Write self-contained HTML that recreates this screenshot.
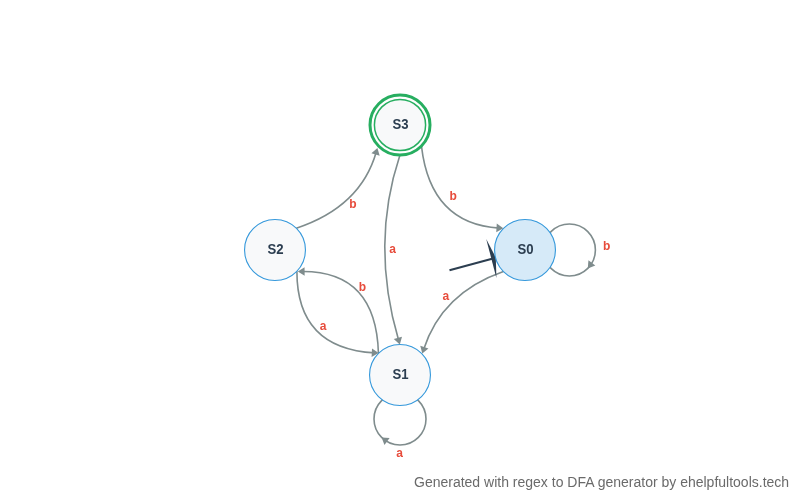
<!DOCTYPE html>
<html><head><meta charset="utf-8"><title>DFA</title>
<style>
html,body{margin:0;padding:0;background:#fff;}
body{width:800px;height:500px;position:relative;overflow:hidden;font-family:"Liberation Sans",sans-serif;}
.foot{will-change:transform;position:absolute;right:11px;top:473.9px;font-size:14px;color:#6a6a6a;line-height:16px;white-space:nowrap;}
</style></head><body>
<svg width="800" height="500" viewBox="0 0 800 500" style="position:absolute;left:0;top:0;will-change:transform">
<path d="M296.33 228.20 Q360.75 206.83 376.32 151.76" fill="none" stroke="#7f8c8d" stroke-width="1.6"/>
<path d="M421.54 146.59 Q430.65 223.82 499.31 228.08" fill="none" stroke="#7f8c8d" stroke-width="1.6"/>
<path d="M503.40 271.53 Q441.83 292.97 423.51 349.77" fill="none" stroke="#7f8c8d" stroke-width="1.6"/>
<path d="M296.91 271.22 Q296.77 348.52 374.61 352.90" fill="none" stroke="#7f8c8d" stroke-width="1.6"/>
<path d="M378.44 353.43 Q376.09 270.93 301.80 271.57" fill="none" stroke="#7f8c8d" stroke-width="1.6"/>
<path d="M399.81 155.50 Q370.29 244.25 398.68 340.55" fill="none" stroke="#7f8c8d" stroke-width="1.6"/>
<circle cx="569.40" cy="250.00" r="26.0" fill="none" stroke="#7f8c8d" stroke-width="1.6"/><polygon points="587.78,268.38 588.44,260.37 595.31,265.54" fill="#7f8c8d"/>
<circle cx="400.00" cy="419.00" r="26.0" fill="none" stroke="#7f8c8d" stroke-width="1.6"/><polygon points="381.62,437.38 389.63,438.04 384.46,444.91" fill="#7f8c8d"/>
<path d="M449.5 270.3 L493 258.5" stroke="#2c3e50" stroke-width="2.2" fill="none"/>
<polygon points="486.2,238.9 495.8,257.4 496.4,278.1" fill="#2c3e50"/>
<circle cx="400" cy="125" r="30" fill="#fff" stroke="#27ae60" stroke-width="3"/>
<circle cx="400" cy="125" r="25.6" fill="#f8f9fa" stroke="#27ae60" stroke-width="1.5"/>
<text transform="translate(400.6,129.1) scale(0.94,1.04)" text-anchor="middle" font-family="Liberation Sans, sans-serif" font-weight="bold" font-size="14" fill="#2c3e50">S3</text>
<circle cx="525" cy="250" r="30.45" fill="#d6eaf8" stroke="#3498db" stroke-width="1.1"/>
<text transform="translate(525.6,254.1) scale(0.94,1.04)" text-anchor="middle" font-family="Liberation Sans, sans-serif" font-weight="bold" font-size="14" fill="#2c3e50">S0</text>
<circle cx="275" cy="250" r="30.45" fill="#f8f9fa" stroke="#3498db" stroke-width="1.1"/>
<text transform="translate(275.6,254.1) scale(0.94,1.04)" text-anchor="middle" font-family="Liberation Sans, sans-serif" font-weight="bold" font-size="14" fill="#2c3e50">S2</text>
<circle cx="400" cy="375" r="30.45" fill="#f8f9fa" stroke="#3498db" stroke-width="1.1"/>
<text transform="translate(400.6,379.1) scale(0.94,1.04)" text-anchor="middle" font-family="Liberation Sans, sans-serif" font-weight="bold" font-size="14" fill="#2c3e50">S1</text>
<polygon points="377.41,147.92 379.70,155.63 371.42,153.29" fill="#7f8c8d"/>
<polygon points="503.30,228.32 496.25,232.20 496.78,223.61" fill="#7f8c8d"/>
<polygon points="422.28,353.58 420.27,345.79 428.46,348.43" fill="#7f8c8d"/>
<polygon points="378.60,353.12 371.57,357.03 372.05,348.45" fill="#7f8c8d"/>
<polygon points="297.80,271.60 304.56,267.25 304.64,275.84" fill="#7f8c8d"/>
<polygon points="399.81,344.38 393.77,339.08 402.01,336.65" fill="#7f8c8d"/>
<text x="352.9" y="207.9" text-anchor="middle" font-family="Liberation Sans, sans-serif" font-weight="bold" font-size="12" fill="#e74c3c">b</text>
<text x="453.2" y="199.8" text-anchor="middle" font-family="Liberation Sans, sans-serif" font-weight="bold" font-size="12" fill="#e74c3c">b</text>
<text x="445.8" y="299.9" text-anchor="middle" font-family="Liberation Sans, sans-serif" font-weight="bold" font-size="12" fill="#e74c3c">a</text>
<text x="362.5" y="290.7" text-anchor="middle" font-family="Liberation Sans, sans-serif" font-weight="bold" font-size="12" fill="#e74c3c">b</text>
<text x="323.2" y="329.9" text-anchor="middle" font-family="Liberation Sans, sans-serif" font-weight="bold" font-size="12" fill="#e74c3c">a</text>
<text x="392.7" y="253.0" text-anchor="middle" font-family="Liberation Sans, sans-serif" font-weight="bold" font-size="12" fill="#e74c3c">a</text>
<text x="606.7" y="249.8" text-anchor="middle" font-family="Liberation Sans, sans-serif" font-weight="bold" font-size="12" fill="#e74c3c">b</text>
<text x="399.6" y="456.7" text-anchor="middle" font-family="Liberation Sans, sans-serif" font-weight="bold" font-size="12" fill="#e74c3c">a</text>
</svg>
<div class="foot">Generated with regex to DFA generator by ehelpfultools.tech</div>
</body></html>
